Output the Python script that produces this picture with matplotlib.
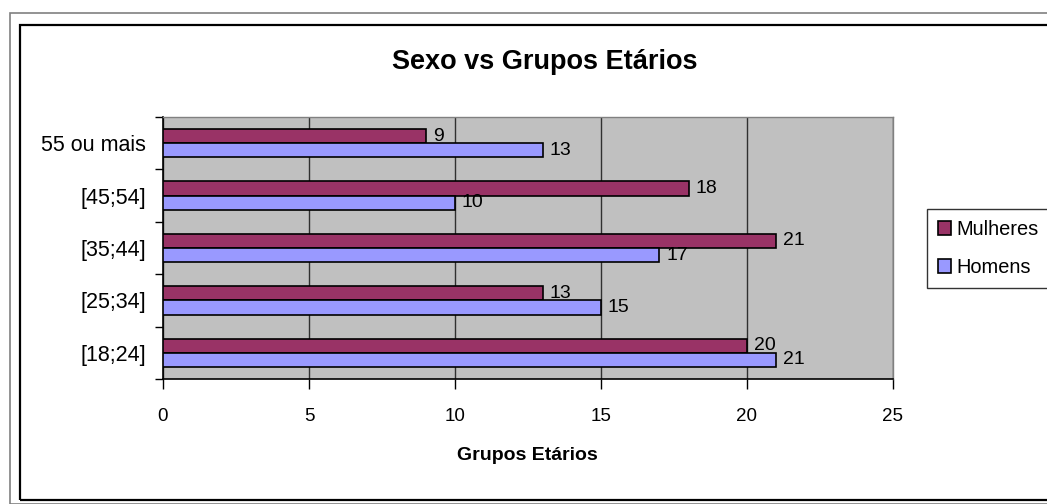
import matplotlib
matplotlib.use("Agg")
import matplotlib.pyplot as plt
from matplotlib.patches import Rectangle, Patch
import numpy as np

plt.rcParams['font.family'] = ['Liberation Sans', 'DejaVu Sans']

categories = ["[18;24]", "[25;34]", "[35;44]", "[45;54]", "55 ou mais"]
mulheres = [20, 13, 21, 18, 9]
homens = [21, 15, 17, 10, 13]
xticks = [0, 5, 10, 15, 20, 25]

W, H = 1047, 504
fig = plt.figure(figsize=(W / 100, H / 100), dpi=100)

# borders
fig.add_artist(Rectangle((10 / W, 0), 1.2, 1 - 13 / H, transform=fig.transFigure,
                         fill=False, edgecolor='#808080', lw=1.2))
fig.add_artist(Rectangle((20 / W, 4 / H), 1.2, 1 - 25 / H - 4 / H, transform=fig.transFigure,
                         fill=False, edgecolor='black', lw=1.6))

L, R, T, B = 163, 893, 117, 379
ax = fig.add_axes([L / W, (H - B) / H, (R - L) / W, (B - T) / H])
ax.set_facecolor('#C0C0C0')

y = np.arange(len(categories))
h = 0.27
cm, ch = '#993366', '#9999FF'
bm = ax.barh(y + h / 2, mulheres, height=h, color=cm, edgecolor='black', lw=1.2, zorder=3)
bh = ax.barh(y - h / 2, homens, height=h, color=ch, edgecolor='black', lw=1.2, zorder=3)

for bars, vals in ((bm, mulheres), (bh, homens)):
    for b, v in zip(bars, vals):
        ax.annotate(str(v), (v, b.get_y() + b.get_height() / 2), xytext=(5, 0),
                    textcoords='offset points', va='center', ha='left', fontsize=14, zorder=4)

ax.set_xlim(0, 25)
ax.set_ylim(-0.5, len(categories) - 0.5)
ax.set_xticks(xticks)
ax.set_xticklabels([str(t) for t in xticks], fontsize=13.5)
ax.tick_params(axis='x', length=7, width=1, pad=14, direction='out')

ax.set_yticks(np.arange(-0.5, len(categories), 1.0))
ax.set_yticklabels([])
ax.set_yticks(y, minor=True)
ax.set_yticklabels(categories, minor=True, fontsize=15.5)
ax.tick_params(axis='y', which='major', length=6, width=1, direction='out')
ax.tick_params(axis='y', which='minor', length=0, pad=12)

ax.grid(axis='x', color='#303030', lw=1.0, zorder=1)
ax.set_axisbelow(True)
for s in ('left', 'bottom'):
    ax.spines[s].set_color('black')
    ax.spines[s].set_linewidth(1.2)
for s in ('top', 'right'):
    ax.spines[s].set_color('#808080')
    ax.spines[s].set_linewidth(1.0)

fig.text(545 / W, 1 - 62 / H, "Sexo vs Grupos Etários", ha='center', va='center',
         fontsize=19.5, fontweight='bold')
fig.text(527 / W, 1 - 456 / H, "Grupos Etários", ha='center', va='center',
         fontsize=14, fontweight='bold')

handles = [Patch(facecolor=cm, edgecolor='black', lw=1.2, label='Mulheres'),
           Patch(facecolor=ch, edgecolor='black', lw=1.2, label='Homens')]
leg = fig.legend(handles=handles, loc='upper left', bbox_to_anchor=(927 / W, 1 - 209 / H),
                 frameon=True, fancybox=False, edgecolor='black', fontsize=14.4,
                 handlelength=0.65, handleheight=0.65, handletextpad=0.25,
                 borderpad=0.55, labelspacing=0.95, borderaxespad=0)
leg.get_frame().set_linewidth(1.0)

fig.savefig("out.png", dpi=100)
